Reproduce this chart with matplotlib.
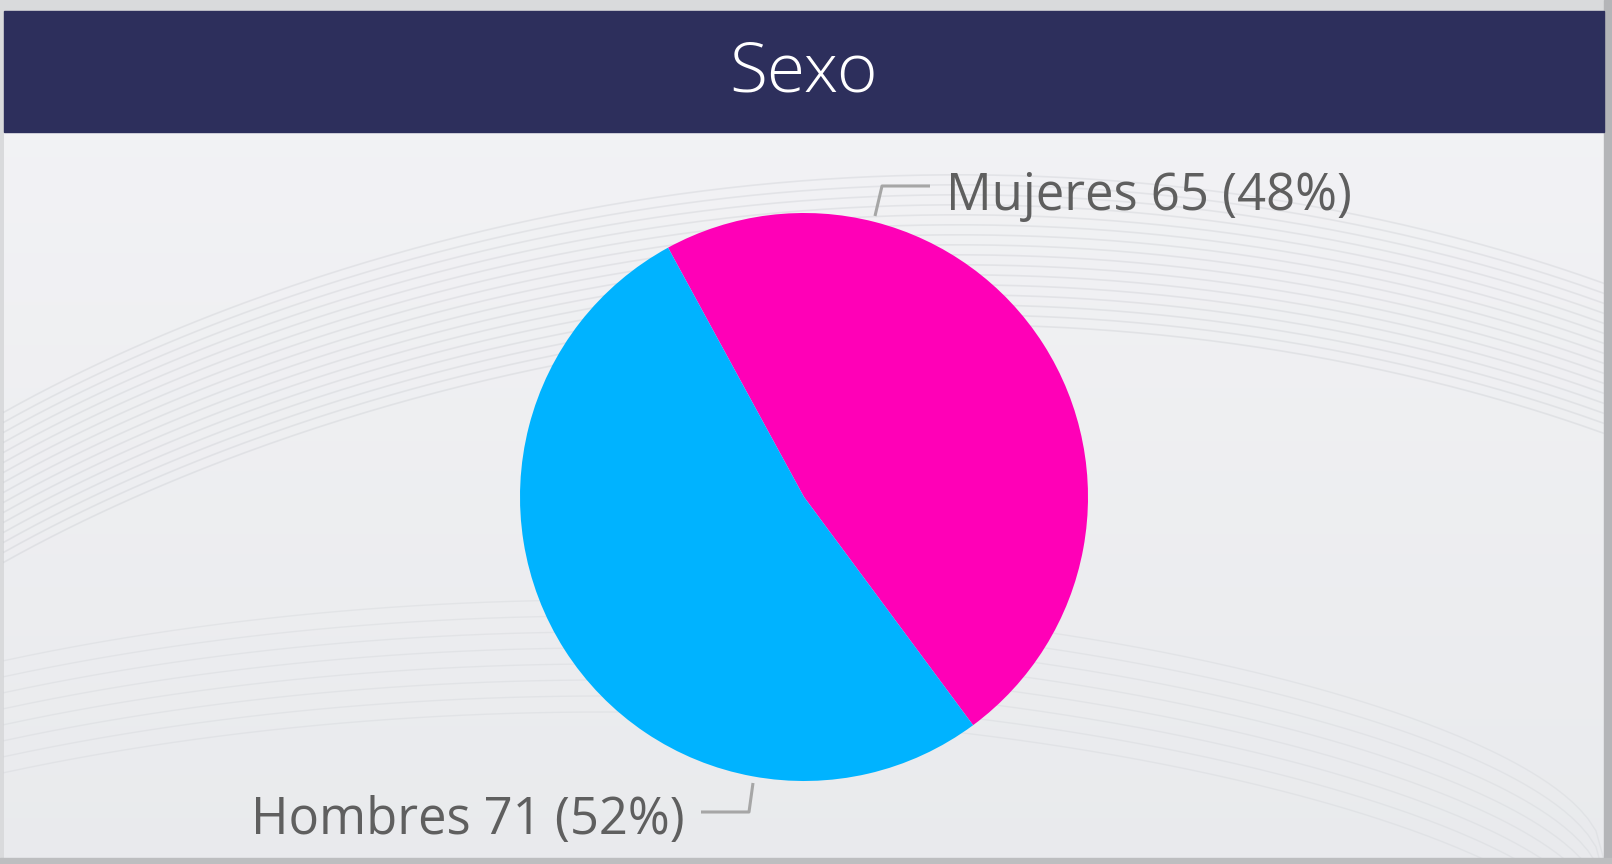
import numpy as np
import matplotlib
matplotlib.use("Agg")
import matplotlib.pyplot as plt
from matplotlib.patches import Rectangle

# Data
categories = ["Mujeres", "Hombres"]
values = [65, 71]
colors = ["#FF00B7", "#00B3FF"]
title = "Sexo"

W, H = 1612, 864
fig = plt.figure(figsize=(W / 100, H / 100), dpi=100)
fig.patch.set_facecolor("#D9DADC")

# Background axes in pixel coordinates
bg = fig.add_axes([0, 0, 1, 1])
bg.set_xlim(0, W)
bg.set_ylim(H, 0)
bg.axis("off")
# vertical gradient panel
grad = np.linspace(0, 1, 256)[:, None]
c_top = np.array([0.955, 0.955, 0.965])
c_bot = np.array([0.915, 0.92, 0.93])
img = c_top[None, None, :] * (1 - grad[..., None]) + c_bot[None, None, :] * grad[..., None]
bg.imshow(img, extent=(4, 1604, 858, 11), aspect="auto", zorder=0)
# faint swirl lines
for i in range(16):
    t = np.linspace(0, 1, 200)
    x = 4 + t * 1600
    y = 600 - 380 * np.sin(np.pi * (0.1 + 0.75 * t)) ** 0.6 + i * 10 - 80 * t
    bg.plot(x, y, color="#B9BCC2", alpha=0.25, lw=1.2, zorder=1)
for i in range(8):
    t = np.linspace(0, 1, 200)
    x = 4 + t * 1600
    y = 860 - 260 * np.sin(np.pi * (0.2 + 0.8 * t)) ** 0.5 + i * 16
    bg.plot(x, y, color="#CDD0D4", alpha=0.3, lw=1.0, zorder=1)
bg.set_xlim(0, W)
bg.set_ylim(H, 0)
# right edge strip
bg.add_patch(Rectangle((1604, 0), 8, H, color="#B4B5B8", zorder=2))
bg.add_patch(Rectangle((0, 858), W, 6, color="#BDBEC0", zorder=2))
# Title bar
bg.add_patch(Rectangle((4, 11), 1600, 121, color="#2D2F5C", zorder=3))
bg.text(804, 74, title, color="white", fontsize=50, family="Open Sans",
        fontweight="light", ha="center", va="center", zorder=4)

# Pie
cx, cy, r = 804, 497, 284
ax = fig.add_axes([(cx - r) / W, (H - cy - r) / H, 2 * r / W, 2 * r / H])
ax.pie(values, colors=colors, startangle=118.6, counterclock=False,
       radius=1, wedgeprops=dict(linewidth=0))
ax.set_xlim(-1, 1)
ax.set_ylim(-1, 1)
ax.set_aspect("auto")
ax.axis("off")

total = sum(values)
labels = [f"{c} {v} ({round(100 * v / total)}%)" for c, v in zip(categories, values)]

# Labels and leader lines
lab = fig.add_axes([0, 0, 1, 1], facecolor="none")
lab.set_xlim(0, W)
lab.set_ylim(H, 0)
lab.axis("off")
lc = "#A6A6A6"
lab.plot([875, 882, 930], [216, 186, 186], color=lc, lw=2.2, solid_capstyle="butt")
lab.text(946, 196, labels[0], color="#5F5F5F", fontsize=36.5, family="Open Sans",
         ha="left", va="center")
lab.plot([753, 749, 701], [783, 812, 812], color=lc, lw=2.2, solid_capstyle="butt")
lab.text(685, 821, labels[1], color="#5F5F5F", fontsize=36.5, family="Open Sans",
         ha="right", va="center")

fig.savefig("out.png", dpi=100)
